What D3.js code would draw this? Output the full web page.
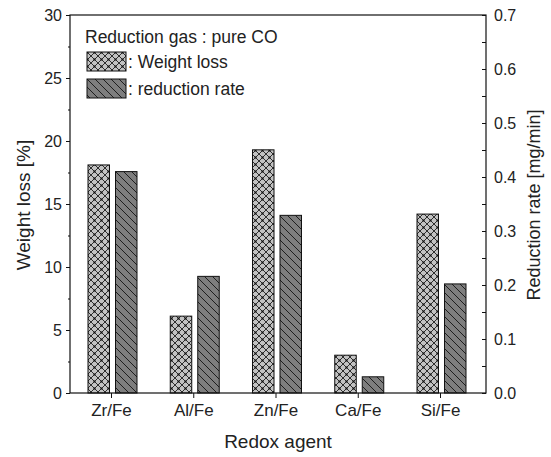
<!DOCTYPE html>
<html>
<head>
<meta charset="utf-8">
<script src="https://cdn.jsdelivr.net/npm/d3@7"></script>
<style>
body { margin: 0; background: #fff; }
text { font-family: "Liberation Sans", Arial, sans-serif; fill: #222; }
</style>
</head>
<body>
<svg width="551" height="457"></svg>
<script>
var agents = ["Zr/Fe", "Al/Fe", "Zn/Fe", "Ca/Fe", "Si/Fe"];
var weightLoss = [18.1, 6.1, 19.3, 3.0, 14.2];
var reductionRate = [0.41, 0.216, 0.329, 0.03, 0.202];
var leftTicks = [0, 5, 10, 15, 20, 25, 30];
var rightTicks = [0, 0.1, 0.2, 0.3, 0.4, 0.5, 0.6, 0.7];

var plotLeft = 70, plotRight = 486, plotTop = 15, plotBottom = 393;
var svg = d3.select("svg");

// patterns
var defs = svg.append("defs");
var p1 = defs.append("pattern").attr("id", "cross").attr("patternUnits", "userSpaceOnUse")
  .attr("width", 7).attr("height", 7);
p1.append("rect").attr("width", 7).attr("height", 7).attr("fill", "#c2c2c2");
p1.append("path").attr("d", "M0,0L7,7M7,0L0,7").attr("stroke", "#2e2e2e").attr("stroke-width", 1);
p1.append("rect").attr("x", 2.5).attr("y", 2.5).attr("width", 2).attr("height", 2).attr("fill", "#111");
var p2 = defs.append("pattern").attr("id", "diag").attr("patternUnits", "userSpaceOnUse")
  .attr("width", 8).attr("height", 8);
p2.append("rect").attr("width", 8).attr("height", 8).attr("fill", "#7e7e7e");
p2.append("path").attr("d", "M0,0L8,8M-4,4L4,12M4,-4L12,4").attr("stroke", "#1e1e1e").attr("stroke-width", 1);

var x = d3.scalePoint().domain(agents).range([111, 440]);
var yL = d3.scaleLinear().domain([0, 30]).range([plotBottom, plotTop]);
var yR = d3.scaleLinear().domain([0, 0.7]).range([plotBottom, plotTop]);

// bars
svg.selectAll(".wl").data(weightLoss).enter().append("rect")
  .attr("x", function(d, i) { return x(agents[i]) - 23; })
  .attr("y", function(d) { return yL(d); })
  .attr("width", 21.5)
  .attr("height", function(d) { return yL(0) - yL(d); })
  .attr("fill", "url(#cross)").attr("stroke", "#111").attr("stroke-width", 1);
svg.selectAll(".rr").data(reductionRate).enter().append("rect")
  .attr("x", function(d, i) { return x(agents[i]) + 4.5; })
  .attr("y", function(d) { return yR(d); })
  .attr("width", 21.5)
  .attr("height", function(d) { return yR(0) - yR(d); })
  .attr("fill", "url(#diag)").attr("stroke", "#111").attr("stroke-width", 1);

// frame
svg.append("rect").attr("x", plotLeft).attr("y", plotTop).attr("width", plotRight - plotLeft).attr("height", plotBottom - plotTop)
  .attr("fill", "none").attr("stroke", "#111").attr("stroke-width", 1.2);

// left axis
var gl = svg.append("g").attr("transform", "translate(" + plotLeft + ",0)")
  .call(d3.axisLeft(yL).tickValues(leftTicks).tickSize(4).tickPadding(4).tickFormat(d3.format("d")));
gl.append("g").call(d3.axisLeft(yL).tickValues(d3.range(2.5, 30, 5)).tickSize(2).tickFormat(""));
// right axis
var gr = svg.append("g").attr("transform", "translate(" + plotRight + ",0)")
  .call(d3.axisRight(yR).tickValues(rightTicks).tickSize(-4).tickPadding(8).tickFormat(d3.format(".1f")));
gr.append("g").call(d3.axisRight(yR).tickValues(d3.range(0.05, 0.7, 0.1)).tickSize(-4).tickFormat(""));
// bottom axis
var gb = svg.append("g").attr("transform", "translate(0," + plotBottom + ")")
  .call(d3.axisBottom(x).tickSize(5).tickPadding(6));

svg.selectAll(".domain").remove();
svg.selectAll(".tick line").attr("stroke", "#111");
gl.selectAll("text").style("font-size", "16px");
gr.selectAll("text").style("font-size", "16px");
gb.selectAll("text").style("font-size", "17px");

// axis titles
svg.append("text").attr("x", (plotLeft + plotRight) / 2).attr("y", 448).attr("text-anchor", "middle")
  .style("font-size", "19px").text("Redox agent");
svg.append("text").attr("transform", "translate(30,205) rotate(-90)").attr("text-anchor", "middle")
  .style("font-size", "19px").text("Weight loss [%]");
svg.append("text").attr("transform", "translate(540,205) rotate(-90)").attr("text-anchor", "middle")
  .style("font-size", "18px").text("Reduction rate [mg/min]");

// legend
svg.append("text").attr("x", 85).attr("y", 43).style("font-size", "17.5px").text("Reduction gas : pure CO");
var legend = svg.append("g");
var legendItems = [": Weight loss", ": reduction rate"];
var legendFills = ["url(#cross)", "url(#diag)"];
legendItems.forEach(function(t, i) {
  legend.append("rect").attr("x", 87).attr("y", 52 + i * 27).attr("width", 39).attr("height", 19)
    .attr("fill", legendFills[i]).attr("stroke", "#111").attr("stroke-width", 1);
  legend.append("text").attr("x", 128).attr("y", 68 + i * 27).style("font-size", "17.5px").text(t);
});
</script>
</body>
</html>
